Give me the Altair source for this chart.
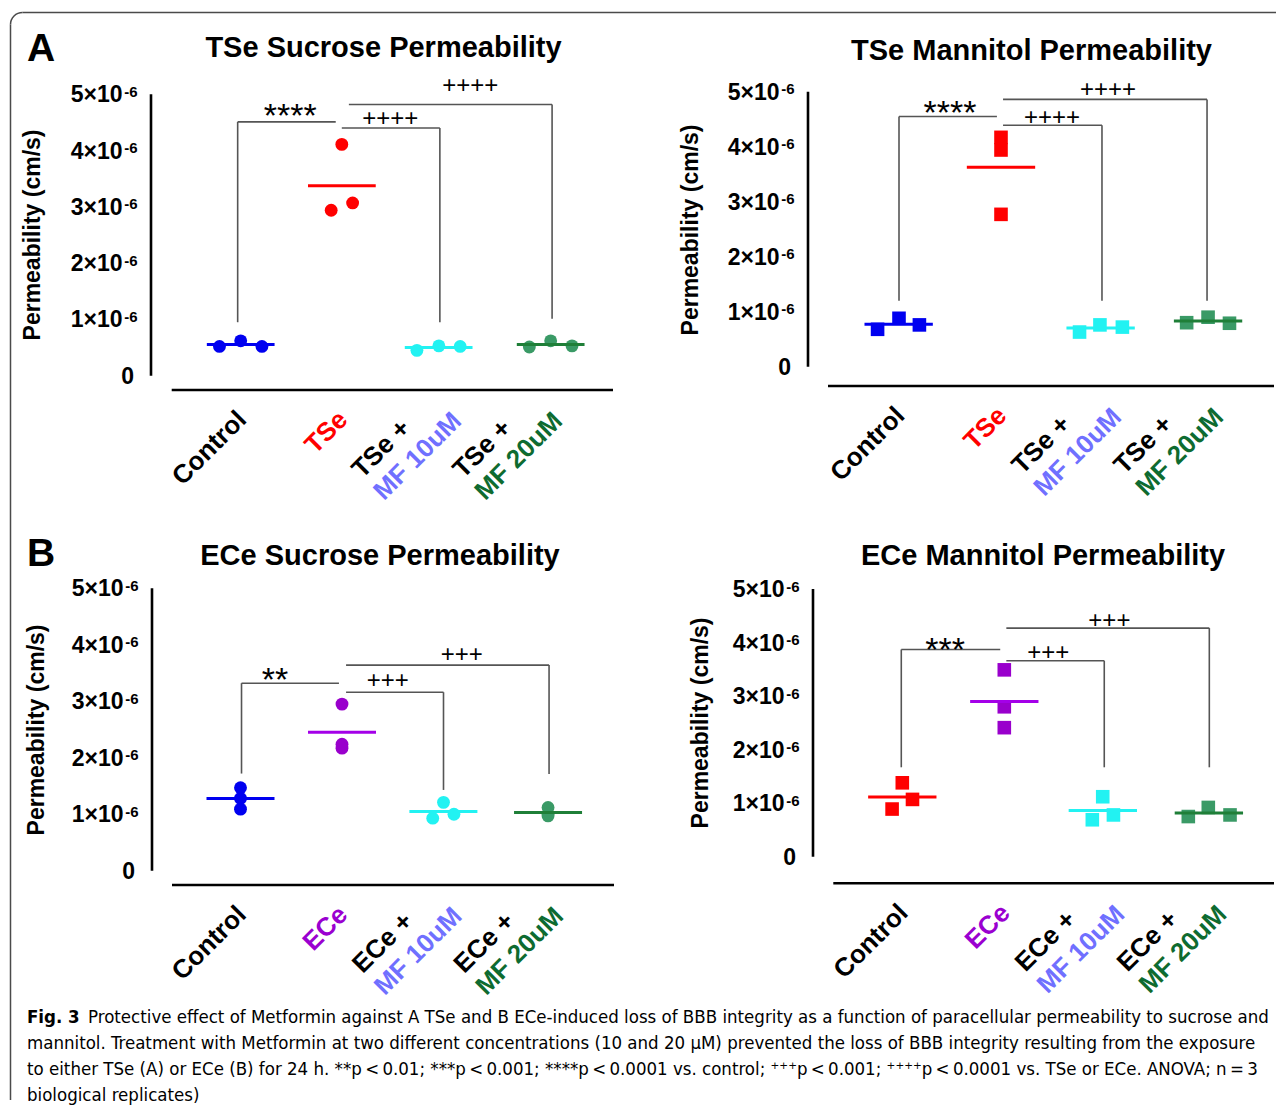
import altair as alt
import pandas as pd

# ---------------- data: permeability in units of 1e-6 cm/s (3 replicates per group) -------------
tse_sucrose = [[0.52, 0.62, 0.52], [4.11, 2.94, 3.07], [0.45, 0.53, 0.52], [0.51, 0.62, 0.53]]
tse_mannitol = [[0.68, 0.88, 0.76], [4.17, 3.94, 2.77], [0.63, 0.76, 0.72], [0.80, 0.90, 0.79]]
ece_sucrose = [[1.47, 1.28, 1.09], [2.95, 2.24, 2.17], [0.93, 1.21, 1.00], [1.12, 0.97, 1.00]]
ece_mannitol = [[1.38, 1.07, 0.89], [3.49, 2.80, 2.41], [1.12, 0.78, 0.69], [0.75, 0.92, 0.78]]

tse_labels = ["Control", "TSe", "TSe +", "TSe +"]
ece_labels = ["Control", "ECe", "ECe +", "ECe +"]
mf_labels = ["", "", "MF 10uM", "MF 20uM"]
y_tick_values = [0, 1, 2, 3, 4, 5]

titles = ["TSe Sucrose Permeability", "TSe Mannitol Permeability",
          "ECe Sucrose Permeability", "ECe Mannitol Permeability"]
y_title = "Permeability (cm/s)"

sig_tse_sucrose = ["****", "++++", "++++"]
sig_tse_mannitol = ["****", "++++", "++++"]
sig_ece_sucrose = ["**", "+++", "+++"]
sig_ece_mannitol = ["***", "+++", "+++"]

caption_bold = "Fig. 3"
caption_lines = [
    "Protective effect of Metformin against A TSe and B ECe-induced loss of BBB integrity as a function of paracellular permeability to sucrose and",
    "mannitol. Treatment with Metformin at two different concentrations (10 and 20 \u00b5M) prevented the loss of BBB integrity resulting from the exposure",
    "to either TSe (A) or ECe (B) for 24 h. **p\u2009<\u20090.01; ***p\u2009<\u20090.001; ****p\u2009<\u20090.0001 vs. control; \u207a\u207a\u207ap\u2009<\u20090.001; \u207a\u207a\u207a\u207ap\u2009<\u20090.0001 vs. TSe or ECe. ANOVA; n\u2009=\u20093",
    "biological replicates)",
]

# ---------------- styles ----------------
FONT = "Liberation Sans, Arial, Helvetica, sans-serif"
CAP_FONT = "Liberation Sans Narrow, DejaVu Sans Condensed, Liberation Sans, sans-serif"
CAP_SIZE = 18.5
BLUE = "#0000F0"
RED = "#FF0000"
CYAN = "#22F2F2"
GREEN_PT = "#3A9A66"
GREEN_LN = "#1F7F38"
PURPLE_PT = "#9900CC"
PURPLE_LN = "#A400E8"
PURPLE_TXT = "#9A00D0"
MF10 = "#7070FF"
MF20 = "#0E6B30"
BRACKET = "#555555"
BORDER = "#4A4A4A"
XLAB_SIZE = 26
CIRCLE_SIZE = 165
SQUARE_SIZE = 185

ONE = pd.DataFrame({"k": [0]})

# panel layout (page pixels)
LAY = {
    "A1": dict(L=153, T=85, W=480, yaxis=151, xaxis_y=390, xa=(171.7, 613), c0=240.7, s=101.1, y0=375.7,
               ppu=56.28,
               jit=[[-0.21, 0, 0.21], [0, -0.105, 0.107], [-0.257, -0.04, 0.171], [-0.145, 0.066, 0.277]],
               br=dict(x1=[-0.03, 1.00, 1.07], x2=[0.94, 1.97, 3.08], top=[4.51, 4.40, 4.82],
                       leg=[-0.03, 1.97, 3.08], bot=[0.95, 0.95, 1.01]),
               sx=[0.49, 1.48, 2.27], sy=[4.76, 4.56, 5.15],
               title=(383.5, 57), ytitle=(32.5, 235)),
    "A2": dict(L=814, T=85, W=455, yaxis=808, xaxis_y=386, xa=(828, 1274), c0=899, s=102, y0=366.7, ppu=55.0,
               jit=[[-0.21, 0, 0.2], [0, 0, 0], [-0.23, -0.03, 0.19], [-0.18, 0.03, 0.24]],
               br=dict(x1=[0.0, 1.02, 1.02], x2=[0.96, 1.99, 3.02], top=[4.55, 4.39, 4.86],
                       leg=[0.0, 1.99, 3.02], bot=[1.2, 1.2, 1.2]),
               sx=[0.50, 1.50, 2.05], sy=[4.76, 4.53, 5.03],
               title=(1031.5, 60), ytitle=(691, 230)),
    "B1": dict(L=153, T=580, W=480, yaxis=152, xaxis_y=885, xa=(172, 614), c0=240.5, s=101.5, y0=870.7,
               ppu=56.48,
               jit=[[0, 0, 0], [0, 0, 0], [-0.106, 0, 0.103], [0.03, 0.03, 0.03]],
               br=dict(x1=[0.01, 1.04, 1.04], x2=[0.97, 2.00, 3.04], top=[3.32, 3.16, 3.64],
                       leg=[0.01, 2.00, 3.04], bot=[1.72, 1.43, 1.71]),
               sx=[0.34, 1.45, 2.18], sy=[3.52, 3.35, 3.82],
               title=(380, 565), ytitle=(37, 730)),
    "B2": dict(L=814, T=580, W=455, yaxis=813, xaxis_y=883.3, xa=(833.3, 1274), c0=902.3, s=102, y0=856.7,
               ppu=53.54,
               jit=[[0, 0.1, -0.1], [0, 0, 0], [-0.035, 0.07, -0.137], [-0.196, 0, 0.213]],
               br=dict(x1=[-0.01, 1.02, 1.02], x2=[0.96, 1.98, 3.01], top=[3.87, 3.66, 4.27],
                       leg=[-0.01, 1.98, 3.01], bot=[1.67, 1.67, 1.67]),
               sx=[0.42, 1.43, 2.03], sy=[4.02, 3.80, 4.41],
               title=(1043, 565), ytitle=(701, 723)),
}


def txt(text, x, y, size, weight="bold", align="center", baseline="alphabetic", angle=0,
        color="black", font=FONT):
    kw = dict(text=text, fontSize=size, fontWeight=weight, align=align, baseline=baseline,
              color=color, font=font)
    if angle:
        kw["angle"] = angle
    return alt.Chart(ONE).mark_text(**kw).encode(x=alt.value(x), y=alt.value(y))


def make_panel(key, values, lab1, lab1_colors, shape, size, pt_colors, ln_colors, sig, title, extras=()):
    lay = LAY[key]
    L, T, W = lay["L"], lay["T"], lay["W"]
    H = lay["xaxis_y"] - T
    s, c0 = lay["s"], lay["c0"]
    xs = alt.Scale(domain=[(L - c0) / s, (L + W - c0) / s], nice=False, zero=False)
    ys = alt.Scale(domain=[(lay["y0"] - lay["xaxis_y"]) / lay["ppu"], (lay["y0"] - T) / lay["ppu"]],
                   nice=False, zero=False)
    off = L - lay["yaxis"]

    rows = []
    for g, vals in enumerate(values):
        for r, v in enumerate(vals):
            rows.append({"g": g, "xp": g + lay["jit"][g][r], "v": v,
                         "pc": pt_colors[g], "lc": ln_colors[g]})
    df = pd.DataFrame(rows)

    pts = alt.Chart(df).mark_point(filled=True, shape=shape, size=size, opacity=1).encode(
        x=alt.X("xp:Q", scale=xs, axis=alt.Axis(values=[0, 1, 2, 3], labels=False, domain=False, grid=False,
                                                 ticks=True, tickSize=10, tickWidth=2.6, tickColor="black",
                                                 title=None)),
        y=alt.Y("v:Q", scale=ys, axis=alt.Axis(values=y_tick_values, labels=False, domain=False, grid=False,
                                                ticks=True, tickSize=9, tickWidth=2.6, tickColor="black",
                                                title=None, offset=off)),
        color=alt.Color("pc:N", scale=None),
    )
    means = alt.Chart(df).transform_aggregate(
        m="mean(v)", mx="mean(xp)", groupby=["g", "lc"]
    ).transform_calculate(
        x1="datum.mx - 0.335", x2="datum.mx + 0.335"
    ).mark_rule(strokeWidth=3).encode(
        x=alt.X("x1:Q", scale=xs, axis=None), x2="x2:Q",
        y=alt.Y("m:Q", scale=ys, axis=None),
        color=alt.Color("lc:N", scale=None),
    )

    yline = alt.Chart(pd.DataFrame({"a": [0], "b": [5]})).mark_rule(color="black", strokeWidth=2.6).encode(
        x=alt.value(-off), y=alt.Y("a:Q", scale=ys, axis=None), y2="b:Q")
    xline = alt.Chart(ONE).mark_rule(color="black", strokeWidth=2.6).encode(
        x=alt.value(lay["xa"][0] - L), x2=alt.value(lay["xa"][1] - L), y=alt.value(H))

    tl_df = pd.DataFrame({"v": y_tick_values[1:], "t": [f"{v}\u00d710" for v in y_tick_values[1:]]})
    tick_base = alt.Chart(tl_df).mark_text(align="right", baseline="middle", fontSize=23, fontWeight="bold",
                                           font=FONT, dy=1).encode(
        x=alt.value(-off - 28.5), y=alt.Y("v:Q", scale=ys, axis=None), text="t:N")
    tick_sup = alt.Chart(tl_df).mark_text(align="right", baseline="alphabetic", fontSize=15, fontWeight="bold",
                                          font=FONT, dy=2.5, text="-6").encode(
        x=alt.value(-off - 13.5), y=alt.Y("v:Q", scale=ys, axis=None))
    tick_zero = alt.Chart(pd.DataFrame({"v": [0]})).mark_text(
        align="right", baseline="middle", fontSize=23, fontWeight="bold", font=FONT, dy=1, text="0").encode(
        x=alt.value(-off - 17), y=alt.Y("v:Q", scale=ys, axis=None))

    ytit = txt(y_title, lay["ytitle"][0] - L, lay["ytitle"][1] - T, 23, angle=270, baseline="middle")
    tit = txt(title, lay["title"][0] - L, lay["title"][1] - T, 29)

    br = pd.DataFrame(lay["br"])
    br_h = alt.Chart(br).mark_rule(color=BRACKET, strokeWidth=1.6).encode(
        x=alt.X("x1:Q", scale=xs, axis=None), x2="x2:Q", y=alt.Y("top:Q", scale=ys, axis=None))
    br_v = alt.Chart(br).mark_rule(color=BRACKET, strokeWidth=1.6).encode(
        x=alt.X("leg:Q", scale=xs, axis=None), y=alt.Y("top:Q", scale=ys, axis=None), y2="bot:Q")

    sdf = pd.DataFrame({"x": lay["sx"], "y": lay["sy"], "t": sig})
    sig_plus = alt.Chart(sdf).transform_filter("indexof(datum.t, '+') >= 0").mark_text(
        fontSize=24, font=FONT, baseline="middle", align="center", color="black").encode(
        x=alt.X("x:Q", scale=xs, axis=None), y=alt.Y("y:Q", scale=ys, axis=None), text="t:N")
    sig_star = alt.Chart(sdf).transform_filter("indexof(datum.t, '*') >= 0").mark_text(
        fontSize=34, font=FONT, baseline="middle", align="center", color="black", dy=9.5).encode(
        x=alt.X("x:Q", scale=xs, axis=None), y=alt.Y("y:Q", scale=ys, axis=None), text="t:N")

    single = pd.DataFrame([{"g": g, "t": lab1[g], "c": lab1_colors[g]} for g in range(4) if not mf_labels[g]])
    first = pd.DataFrame([{"g": g, "t": lab1[g], "c": lab1_colors[g]} for g in range(4) if mf_labels[g]])
    second = pd.DataFrame([{"g": g, "t": mf_labels[g], "c": (MF10 if "10" in mf_labels[g] else MF20)}
                           for g in range(4) if mf_labels[g]])
    w2 = 4.278 * XLAB_SIZE
    xl_common = dict(angle=315, baseline="middle", fontSize=XLAB_SIZE, fontWeight="bold", font=FONT)
    enc = dict(x=alt.X("g:Q", scale=xs, axis=None), y=alt.value(H + 10), text="t:N",
               color=alt.Color("c:N", scale=None))
    xl_single = alt.Chart(single).mark_text(align="right", dx=-10, dy=12, **xl_common).encode(**enc)
    xl_first = alt.Chart(first).mark_text(align="left", dx=-2 - w2, dy=-9, **xl_common).encode(**enc)
    xl_second = alt.Chart(second).mark_text(align="right", dx=-2, dy=22, **xl_common).encode(**enc)

    layers = [yline, xline, br_h, br_v, pts, means, tick_base, tick_sup, tick_zero, ytit, tit,
              sig_plus, sig_star, xl_single, xl_first, xl_second] + [e(L, T) for e in extras]
    return alt.layer(*layers).properties(width=W, height=H)


def border(L, T):
    top = alt.Chart(ONE).mark_rule(color=BORDER, strokeWidth=1.5).encode(
        x=alt.value(22.5 - L), x2=alt.value(1276 - L), y=alt.value(12.5 - T))
    left = alt.Chart(ONE).mark_rule(color=BORDER, strokeWidth=1.5).encode(
        x=alt.value(10.5 - L), y=alt.value(24.5 - T), y2=alt.value(1100 - T))
    arc = alt.Chart(ONE).mark_arc(theta=4.712389, theta2=6.283185, radius=12.75, radius2=11.25,
                                  color=BORDER).encode(x=alt.value(22.5 - L), y=alt.value(24.5 - T))
    return alt.layer(top, left, arc)


def letter_a(L, T):
    return txt("A", 27 - L, 61 - T, 39, align="left")


def letter_b(L, T):
    return txt("B", 27 - L, 566 - T, 39, align="left")


def caption(L, T):
    parts = [txt(caption_bold, 27 - L, 1023 - T, CAP_SIZE, align="left", font=CAP_FONT),
             txt(caption_lines[0], 88 - L, 1023 - T, CAP_SIZE, weight="normal", align="left", font=CAP_FONT)]
    for i, line in enumerate(caption_lines[1:]):
        parts.append(txt(line, 27 - L, 1049.3 - T + i * 26.0, CAP_SIZE, weight="normal", align="left",
                         font=CAP_FONT))
    return alt.layer(*parts)


pA1 = make_panel("A1", tse_sucrose, tse_labels, ["black", RED, "black", "black"], "circle", CIRCLE_SIZE,
                 [BLUE, RED, CYAN, GREEN_PT], [BLUE, RED, CYAN, GREEN_LN], sig_tse_sucrose, titles[0],
                 extras=(border, letter_a))
pA2 = make_panel("A2", tse_mannitol, tse_labels, ["black", RED, "black", "black"], "square", SQUARE_SIZE,
                 [BLUE, RED, CYAN, GREEN_PT], [BLUE, RED, CYAN, GREEN_LN], sig_tse_mannitol, titles[1])
pB1 = make_panel("B1", ece_sucrose, ece_labels, ["black", PURPLE_TXT, "black", "black"], "circle", CIRCLE_SIZE,
                 [BLUE, PURPLE_PT, CYAN, GREEN_PT], [BLUE, PURPLE_LN, CYAN, GREEN_LN], sig_ece_sucrose,
                 titles[2], extras=(letter_b, caption))
pB2 = make_panel("B2", ece_mannitol, ece_labels, ["black", PURPLE_TXT, "black", "black"], "square", SQUARE_SIZE,
                 [RED, PURPLE_PT, CYAN, GREEN_PT], [RED, PURPLE_LN, CYAN, GREEN_LN], sig_ece_mannitol,
                 titles[3])

chart = alt.concat(pA1, pA2, pB1, pB2, columns=2, spacing={"row": 190, "column": 181},
                   bounds="flush").properties(
    padding={"left": 1, "top": 3, "right": 0, "bottom": 0}
).configure_view(stroke=None)

chart.save("out.html", embed_options={"renderer": "svg", "actions": False})
